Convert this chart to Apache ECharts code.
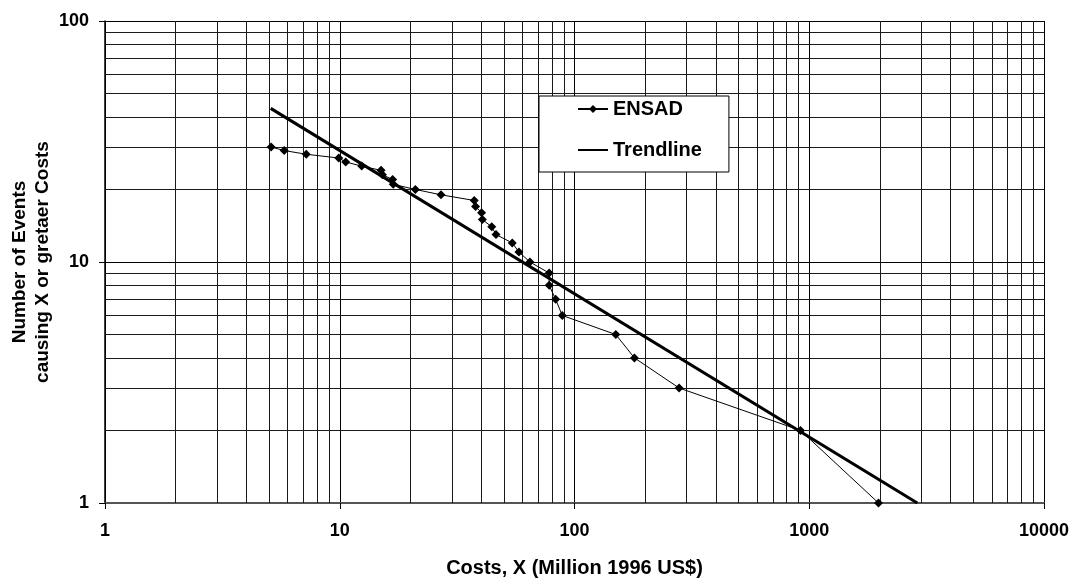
<!DOCTYPE html>
<html>
<head>
<meta charset="utf-8">
<script src="https://cdn.jsdelivr.net/npm/echarts@6/dist/echarts.min.js"></script>
<style>
html, body { margin: 0; padding: 0; background: #fff; }
#chart { width: 1075px; height: 579px; }
</style>
</head>
<body>
<div id="chart"></div>
<script>
var dom = document.getElementById("chart");
var myChart = echarts.init(dom);
var font = "Liberation Sans, Arial, sans-serif";

// ENSAD points: cost (million 1996 US$) and number of events with X or greater cost
var ensadCost = [5.1, 5.8, 7.2, 9.9, 10.6, 12.4, 15.0, 15.2, 16.8, 16.9, 21, 27, 37.4, 37.9, 40.2, 40.5,
    44.4, 46.3, 54.3, 58.0, 64.6, 78, 78, 83.1, 88.7, 150, 180, 279, 918, 1973];
var ensadCount = [30, 29, 28, 27, 26, 25, 24, 23, 22, 21, 20, 19, 18, 17, 16, 15,
    14, 13, 12, 11, 10, 9, 8, 7, 6, 5, 4, 3, 2, 1];

// trendline end points
var trendCost = [5.08, 2886];
var trendCount = [43.4, 1.0];

// minor grid lines (log axis, 2..9 per decade)
var xMinor = [2, 3, 4, 5, 6, 7, 8, 9, 20, 30, 40, 50, 60, 70, 80, 90,
    200, 300, 400, 500, 600, 700, 800, 900, 2000, 3000, 4000, 5000, 6000, 7000, 8000, 9000];
var yMinor = [2, 3, 4, 5, 6, 7, 8, 9, 20, 30, 40, 50, 60, 70, 80, 90];

function pairs(xs, ys) {
    var out = [];
    for (var i = 0; i < xs.length; i++) {
        out.push([xs[i], ys[i]]);
    }
    return out;
}

var gridLines = [];
xMinor.forEach(function (v) { gridLines.push({ xAxis: v }); });
yMinor.forEach(function (v) { gridLines.push({ yAxis: v }); });

var option = {
    backgroundColor: '#fff',
    animation: false,
    grid: {
        left: 105,
        right: 31,
        top: 21,
        bottom: 76,
        outerBoundsMode: 'none',
        containLabel: false
    },
    legend: {
        left: 539,
        top: 96,
        orient: 'vertical',
        backgroundColor: '#fff',
        borderColor: '#000',
        borderWidth: 1,
        padding: [3, 27, 12, 38],
        itemGap: 21,
        itemWidth: 30,
        itemHeight: 10,
        textStyle: {
            fontFamily: font,
            fontWeight: 'bold',
            fontSize: 20,
            color: '#000'
        },
        data: [
            { name: 'ENSAD' },
            { name: 'Trendline', itemStyle: { opacity: 0 } }
        ]
    },
    xAxis: {
        type: 'log',
        logBase: 10,
        min: 1,
        max: 10000,
        name: 'Costs, X (Million 1996 US$)',
        nameLocation: 'middle',
        nameGap: 55,
        nameTextStyle: {
            fontFamily: font,
            fontWeight: 'bold',
            fontSize: 20,
            color: '#000'
        },
        axisLine: { lineStyle: { color: '#555', width: 2 } },
        axisTick: { show: true, length: 6, lineStyle: { color: '#000' } },
        axisLabel: {
            margin: 19,
            fontFamily: font,
            fontWeight: 'bold',
            fontSize: 18,
            color: '#000',
            formatter: function (v) { return String(v); }
        },
        splitLine: { show: true, lineStyle: { color: '#000', width: 1 } },
        minorTick: { show: false },
        minorSplitLine: { show: false }
    },
    yAxis: {
        type: 'log',
        logBase: 10,
        min: 1,
        max: 100,
        name: 'Number of Events\ncausing X or gretaer Costs',
        nameLocation: 'middle',
        nameRotate: 90,
        nameGap: 51,
        nameMoveOverlap: false,
        nameTextStyle: {
            fontFamily: font,
            fontWeight: 'bold',
            fontSize: 19,
            lineHeight: 23,
            color: '#000'
        },
        axisLine: { show: true, lineStyle: { color: '#000', width: 1.5 } },
        axisTick: { show: true, length: 6, lineStyle: { color: '#000' } },
        axisLabel: {
            margin: 16,
            fontFamily: font,
            fontWeight: 'bold',
            fontSize: 18,
            color: '#000',
            formatter: function (v) { return String(v); }
        },
        splitLine: { show: true, lineStyle: { color: '#000', width: 1 } },
        minorTick: { show: false },
        minorSplitLine: { show: false }
    },
    series: [
        {
            name: 'grid',
            type: 'line',
            data: [],
            silent: true,
            markLine: {
                z: 1,
                silent: true,
                symbol: ['none', 'none'],
                label: { show: false },
                emphasis: { disabled: true },
                lineStyle: { type: 'solid', color: '#1a1a1a', width: 1 },
                data: gridLines
            }
        },
        {
            name: 'ENSAD',
            type: 'line',
            z: 3,
            data: pairs(ensadCost, ensadCount),
            symbol: 'diamond',
            symbolSize: 9,
            showSymbol: true,
            itemStyle: { color: '#000' },
            lineStyle: { color: '#000', width: 1 }
        },
        {
            name: 'Trendline',
            type: 'line',
            z: 4,
            data: pairs(trendCost, trendCount),
            symbol: 'none',
            itemStyle: { color: '#000' },
            lineStyle: { color: '#000', width: 3 }
        }
    ]
};
myChart.setOption(option);
</script>
</body>
</html>
